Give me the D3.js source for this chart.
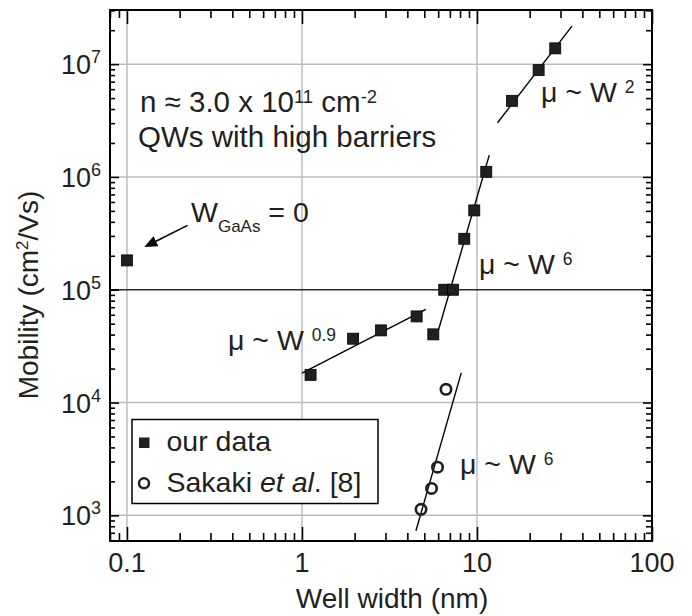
<!DOCTYPE html>
<html><head><meta charset="utf-8">
<script src="https://cdn.jsdelivr.net/npm/d3@7"></script>
<style>
body{margin:0;background:#fff;}
text{font-family:"Liberation Sans",Arial,sans-serif;fill:#231f20;}
</style></head>
<body><svg id="c" width="692" height="616"></svg>
<script>
// ---- data ----
const ourWidth = [0.1, 1.12, 1.96, 2.83, 4.52, 5.63, 6.5, 7.3, 8.46, 9.65, 11.3, 15.85, 22.5, 28];
const ourMobility = [1.82e5, 1.76e4, 3.68e4, 4.36e4, 5.8e4, 4.02e4, 1.0e5, 1.0e5, 2.83e5, 5.05e5, 1.11e6, 4.73e6, 8.85e6, 1.38e7];
const sakakiWidth = [4.79, 5.5, 5.95, 6.65];
const sakakiMobility = [1.13e3, 1.73e3, 2.67e3, 1.31e4];
const fitW09 = [[1.0, 1.82e4], [5.1, 6.7e4]];
const fitW6 = [[6.03, 4.42e4], [11.75, 1.56e6]];
const fitW2 = [[13.1, 3.02e6], [34.9, 2.17e7]];
const fitSakaki = [[4.48, 730], [8.13, 1.83e4]];
const arrowGaAs = [[0.222, 3.72e5], [0.1256, 2.39e5]];
const xMajor = [0.1, 1, 10, 100];
const xMajorLabels = ["0.1", "1", "10", "100"];
const yExponents = [3, 4, 5, 6, 7];
const xDomain = [0.08, 100];
const yDomain = [592, 3.02e7];

// ---- layout ----
const L = 110, R = 652, T = 10, B = 541;
const svg = d3.select("#c");
const x = d3.scaleLog().domain(xDomain).range([L, R]);
const y = d3.scaleLog().domain(yDomain).range([B, T]);
const ink = "#231f20";

const xMinor = [];
[0.01, 0.1, 1, 10].forEach(d => { for (let k = 2; k <= 9; k++) { const v = d * k; if (v >= xDomain[0] && v <= xDomain[1]) xMinor.push(v); } });
const yMajor = yExponents.map(e => Math.pow(10, e));
const yMinor = [];
[100, 1e3, 1e4, 1e5, 1e6, 1e7].forEach(d => { for (let k = 2; k <= 9; k++) { const v = d * k; if (v >= yDomain[0] && v <= yDomain[1]) yMinor.push(v); } });

// gridlines
svg.append("g").selectAll("line").data(xMajor.filter(v => v < 100)).join("line")
  .attr("x1", d => x(d)).attr("x2", d => x(d)).attr("y1", T).attr("y2", B)
  .attr("stroke", "#bdbdbd").attr("stroke-width", 1.5);
svg.append("g").selectAll("line").data(yMajor).join("line")
  .attr("y1", d => y(d)).attr("y2", d => y(d)).attr("x1", L).attr("x2", R)
  .attr("stroke", d => d === 1e5 ? "#2a2a2a" : "#bdbdbd").attr("stroke-width", 1.5);

// fit lines
const lineGen = d3.line().x(d => x(d[0])).y(d => y(d[1]));
[fitW09, fitW6, fitW2, fitSakaki].forEach(f => {
  svg.append("path").attr("d", lineGen(f)).attr("stroke", "#000").attr("stroke-width", 1.4).attr("fill", "none");
});

// markers
const sq = 11;
svg.append("g").selectAll("rect").data(ourWidth.map((w, i) => [w, ourMobility[i]])).join("rect")
  .attr("x", d => x(d[0]) - sq / 2).attr("y", d => y(d[1]) - sq / 2)
  .attr("width", sq).attr("height", sq).attr("fill", ink).attr("stroke", "#000").attr("stroke-width", 0.8);
svg.append("g").selectAll("circle").data(sakakiWidth.map((w, i) => [w, sakakiMobility[i]])).join("circle")
  .attr("cx", d => x(d[0])).attr("cy", d => y(d[1])).attr("r", 5.2)
  .attr("fill", "none").attr("stroke", ink).attr("stroke-width", 2.6);

// axes (inward ticks)
function tickAxis(axisFn, scale, vals, size, tr) {
  svg.append("g").attr("transform", tr)
    .call(axisFn(scale).tickValues(vals).tickSize(size).tickFormat(""))
    .call(g => g.select(".domain").remove())
    .call(g => g.selectAll("line").attr("stroke", "#000").attr("stroke-width", 1.6));
}
tickAxis(d3.axisTop, x, xMajor, 14, `translate(0,${B})`);
tickAxis(d3.axisTop, x, xMinor, 8, `translate(0,${B})`);
tickAxis(d3.axisBottom, x, xMajor, 14, `translate(0,${T})`);
tickAxis(d3.axisBottom, x, xMinor, 8, `translate(0,${T})`);
tickAxis(d3.axisRight, y, yMajor, 9, `translate(${L},0)`);
tickAxis(d3.axisRight, y, yMinor, 5, `translate(${L},0)`);
tickAxis(d3.axisLeft, y, yMajor, 9, `translate(${R},0)`);
tickAxis(d3.axisLeft, y, yMinor, 6, `translate(${R},0)`);

svg.append("rect").attr("x", L).attr("y", T).attr("width", R - L).attr("height", B - T)
  .attr("fill", "none").attr("stroke", "#000").attr("stroke-width", 2);

// tick labels
svg.append("g").selectAll("text").data(xMajor).join("text")
  .attr("x", d => x(d)).attr("y", 572).attr("text-anchor", "middle").attr("font-size", 27)
  .text((d, i) => xMajorLabels[i]);
const yl = svg.append("g").selectAll("text").data(yExponents).join("text")
  .attr("x", 101).attr("y", d => y(Math.pow(10, d)) + 10).attr("text-anchor", "end").attr("font-size", 27);
yl.append("tspan").text("10");
yl.append("tspan").attr("font-size", 18).attr("dy", -11).text(d => d);

// axis titles
svg.append("text").attr("x", 392).attr("y", 608).attr("text-anchor", "middle").attr("font-size", 28).text("Well width (nm)");
const yt = svg.append("text").attr("transform", "translate(38,295) rotate(-90)").attr("text-anchor", "middle").attr("font-size", 28);
yt.append("tspan").text("Mobility (cm");
yt.append("tspan").attr("font-size", 17).attr("dy", -10).text("2");
yt.append("tspan").attr("dy", 10).text("/Vs)");

// annotations
const a1 = svg.append("text").attr("x", 140).attr("y", 111.5).attr("font-size", 29.5);
a1.append("tspan").text("n \u2248 3.0 x 10");
a1.append("tspan").attr("font-size", 18.5).attr("dy", -9).text("11");
a1.append("tspan").attr("dy", 9).text(" cm");
a1.append("tspan").attr("font-size", 18.5).attr("dy", -9).text("-2");
svg.append("text").attr("x", 138).attr("y", 146.5).attr("font-size", 29.5).text("QWs with high barriers");

const a2 = svg.append("text").attr("x", 191).attr("y", 221.5).attr("font-size", 28.5);
a2.append("tspan").text("W");
a2.append("tspan").attr("font-size", 17).attr("dy", 10).text("GaAs");
a2.append("tspan").attr("dy", -10).text(" = 0");

// arrow
const [p0, p1] = arrowGaAs.map(d => [x(d[0]), y(d[1])]);
const ang = Math.atan2(p1[1] - p0[1], p1[0] - p0[0]);
const hl = 13, hw = 5.5;
const base = [p1[0] - hl * Math.cos(ang), p1[1] - hl * Math.sin(ang)];
svg.append("line").attr("x1", p0[0]).attr("y1", p0[1]).attr("x2", base[0]).attr("y2", base[1])
  .attr("stroke", "#000").attr("stroke-width", 1.6);
svg.append("path").attr("d", d3.line()([p1,
  [base[0] + hw * Math.sin(ang), base[1] - hw * Math.cos(ang)],
  [base[0] - hw * Math.sin(ang), base[1] + hw * Math.cos(ang)]]) + "Z").attr("fill", "#000");

function muLabel(px, py, exp) {
  const t = svg.append("text").attr("x", px).attr("y", py).attr("font-size", 28.5);
  t.append("tspan").text("\u03bc ~ W ");
  t.append("tspan").attr("font-size", 17.5).attr("dy", -9).text(exp);
}
muLabel(228, 350, "0.9");
muLabel(479, 274, "6");
muLabel(541, 101.5, "2");
muLabel(460, 473.5, "6");

// legend
svg.append("rect").attr("x", 132).attr("y", 419.5).attr("width", 246).attr("height", 84)
  .attr("fill", "#fff").attr("stroke", "#000").attr("stroke-width", 1.5);
svg.append("rect").attr("x", 139).attr("y", 437.5).attr("width", 10.5).attr("height", 10.5).attr("fill", ink);
svg.append("circle").attr("cx", 144).attr("cy", 483.3).attr("r", 5).attr("fill", "none").attr("stroke", ink).attr("stroke-width", 2.5);
svg.append("text").attr("x", 166.5).attr("y", 451).attr("font-size", 28.5).text("our data");
const lg = svg.append("text").attr("x", 166.5).attr("y", 492).attr("font-size", 28.5);
lg.append("tspan").text("Sakaki ");
lg.append("tspan").attr("font-style", "italic").text("et al");
lg.append("tspan").text(". [8]");
</script></body></html>
